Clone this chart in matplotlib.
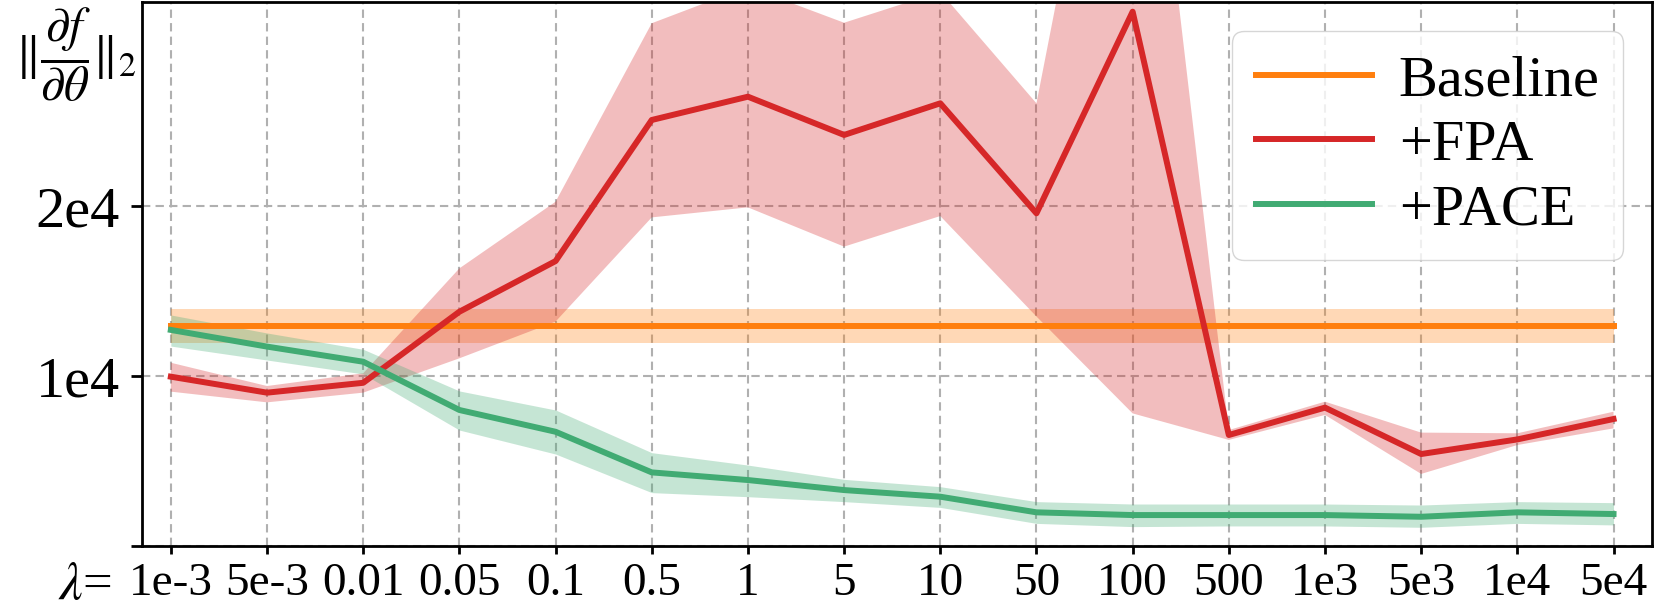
import matplotlib
matplotlib.use("Agg")
from matplotlib import pyplot as plt

# lambda values on the x axis
lambdas = ["1e-3", "5e-3", "0.01", "0.05", "0.1", "0.5", "1", "5", "10", "50",
           "100", "500", "1e3", "5e3", "1e4", "5e4"]

# gradient norm
baseline = [12940] * 16
baseline_lo = [11920] * 16
baseline_hi = [13920] * 16

fpa = [9960, 9020, 9600, 13780, 16760, 25060, 26430, 24180, 26040, 19570,
       31430, 6530, 8140, 5410, 6270, 7470]
fpa_lo = [9080, 8450, 9020, 11040, 13200, 19330, 19920, 17610, 19410, 13500,
          7800, 6240, 7710, 4240, 5940, 6920]
fpa_hi = [10780, 9410, 10160, 16330, 20250, 30750, 32900, 30780, 32600, 26040,
          55000, 6820, 8490, 6670, 6630, 7900]

pace = [12710, 11730, 10840, 8000, 6720, 4330, 3880, 3290, 2900, 1980,
        1820, 1820, 1820, 1720, 1980, 1880]
pace_lo = [11760, 10940, 10120, 6820, 5410, 3140, 2900, 2610, 2270, 1330,
           1140, 1180, 1180, 1100, 1330, 1240]
pace_hi = [13590, 12530, 11570, 9120, 8000, 5490, 4760, 3920, 3490, 2610,
           2470, 2470, 2470, 2410, 2610, 2550]

plt.rcParams["font.family"] = ["Liberation Serif", "DejaVu Serif"]
plt.rcParams["mathtext.fontset"] = "stix"
plt.rcParams["font.size"] = 42

fig = plt.figure(figsize=(16.61, 6.12), dpi=100)
ax = fig.add_axes([142 / 1661, 1 - 546 / 612, (1652 - 142) / 1661, (546 - 2) / 612])

x = list(range(len(lambdas)))
lw = 4.3
ax.plot(x, baseline, color="#ff7f0e", lw=lw, label="Baseline")
ax.fill_between(x, baseline_lo, baseline_hi, color="#ff7f0e", alpha=0.3, lw=0)
ax.plot(x, fpa, color="#d62728", lw=lw, label="+FPA")
ax.fill_between(x, fpa_lo, fpa_hi, color="#d62728", alpha=0.3, lw=0)
ax.plot(x, pace, color="#41ab73", lw=lw, label="+PACE")
ax.fill_between(x, pace_lo, pace_hi, color="#41ab73", alpha=0.3, lw=0)

ax.set_xlim(-0.3, 15.4)
ax.set_ylim(0, 32000)
ax.set_xticks(x)
ax.set_xticklabels(lambdas, fontsize=34)
ax.set_yticks([0, 10000, 20000])
ax.set_yticklabels(["", "1e4", "2e4"], fontsize=42)
ax.tick_params(axis="x", length=6, width=2, pad=6)
ax.tick_params(axis="y", length=8, width=2, pad=8)
for s in ax.spines.values():
    s.set_linewidth(2)

ax.grid(True, linestyle=(0, (4, 2.5)), color="#b0b0b0", lw=1.5)
ax.set_axisbelow(True)

ax.legend(loc="upper right", framealpha=0.8, labelspacing=0.2, handletextpad=0.45)

fig.text(137 / 1661, 1 - 55 / 612, r"$\|\dfrac{\partial f}{\partial \theta}\|_2$",
         ha="right", va="center", fontsize=35)
fig.text(112 / 1661, 1 - 599 / 612, r"$\lambda$=", ha="right", va="baseline", fontsize=38)

fig.savefig("out.png", dpi=100)
